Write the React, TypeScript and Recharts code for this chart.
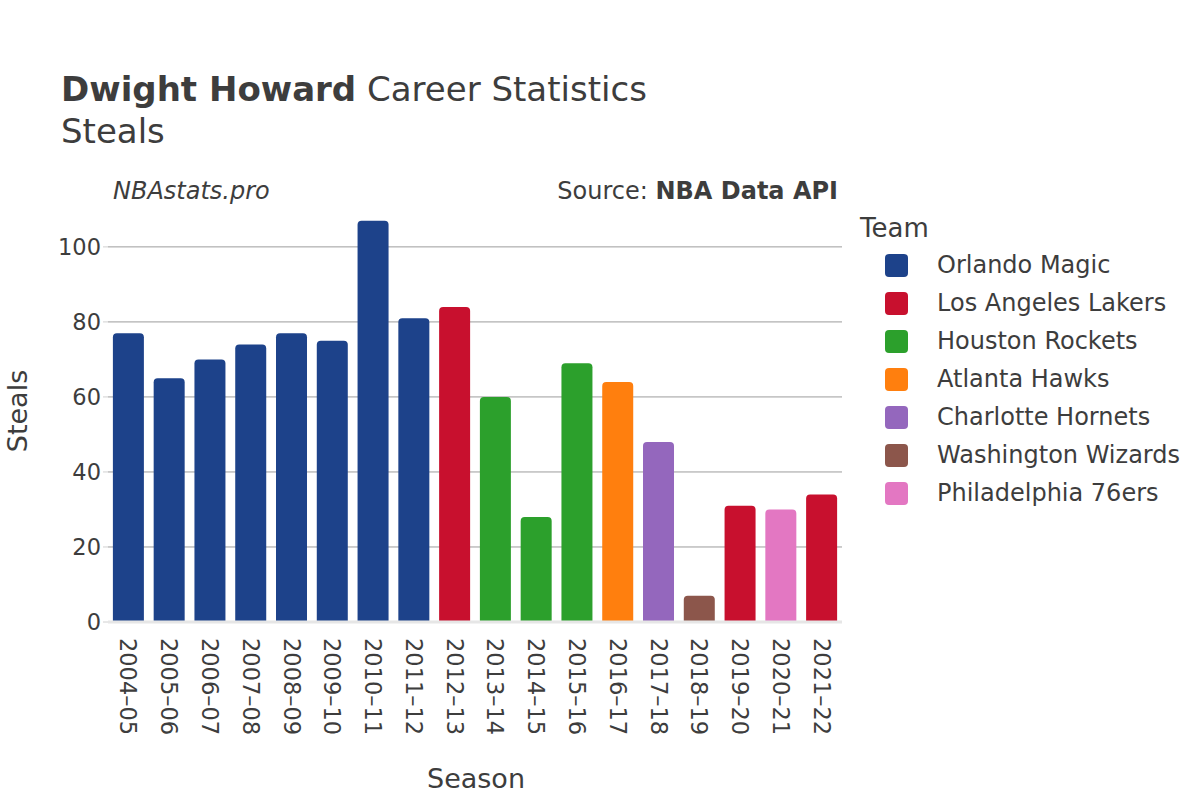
import React from "react";
import { BarChart, Bar, Cell, CartesianGrid, XAxis, YAxis, Legend, ReferenceLine } from "recharts";

// Dwight Howard steals per season, coloured by team
const SEASONS = [
  "2004–05", "2005–06", "2006–07", "2007–08", "2008–09", "2009–10",
  "2010–11", "2011–12", "2012–13", "2013–14", "2014–15", "2015–16",
  "2016–17", "2017–18", "2018–19", "2019–20", "2020–21", "2021–22",
];
const STEALS = [77, 65, 70, 74, 77, 75, 107, 81, 84, 60, 28, 69, 64, 48, 7, 31, 30, 34];
const SEASON_TEAM = [
  "Orlando Magic", "Orlando Magic", "Orlando Magic", "Orlando Magic", "Orlando Magic", "Orlando Magic",
  "Orlando Magic", "Orlando Magic", "Los Angeles Lakers", "Houston Rockets", "Houston Rockets", "Houston Rockets",
  "Atlanta Hawks", "Charlotte Hornets", "Washington Wizards", "Los Angeles Lakers", "Philadelphia 76ers", "Los Angeles Lakers",
];
const TEAMS = [
  "Orlando Magic", "Los Angeles Lakers", "Houston Rockets", "Atlanta Hawks",
  "Charlotte Hornets", "Washington Wizards", "Philadelphia 76ers",
];
const TEAM_COLORS = ["#1d428a", "#c8102e", "#2ca02c", "#ff7f0e", "#9467bd", "#8c564b", "#e377c2"];
const Y_TICKS = [0, 20, 40, 60, 80, 100];

const FONT = "'DejaVu Sans', Verdana, sans-serif";
const TEXT = "#3d3d3d";
const LEGEND_W = 340;

const data = SEASONS.map((season, i) => ({ season, steals: STEALS[i], team: SEASON_TEAM[i] }));
const colorOf = (team: string) => TEAM_COLORS[TEAMS.indexOf(team)];

function SeasonTick({ x, y, payload }: any) {
  return (
    <text
      x={x}
      y={y + 8}
      transform={`rotate(90, ${x}, ${y + 8})`}
      textAnchor="start"
      dominantBaseline="central"
      fontSize={22.5}
      fill={TEXT}
      fontFamily={FONT}
    >
      {payload.value}
    </text>
  );
}

function TeamLegend() {
  return (
    <div style={{ fontFamily: FONT, color: TEXT, width: LEGEND_W }}>
      <div style={{ fontSize: 26, lineHeight: "36px", height: 36 }}>Team</div>
      {TEAMS.map((t, i) => (
        <div key={t} style={{ display: "flex", alignItems: "center", height: 38 }}>
          <div
            style={{
              width: 23, height: 23, borderRadius: 4, marginLeft: 25,
              background: TEAM_COLORS[i],
            }}
          />
          <span style={{ marginLeft: 29, fontSize: 24, whiteSpace: "nowrap" }}>{t}</span>
        </div>
      ))}
    </div>
  );
}

export default function App() {
  return (
    <div style={{ position: "absolute", left: 0, top: 0, width: 1200, height: 800, background: "#fff" }}>
      <BarChart
        width={1200}
        height={800}
        data={data}
        margin={{ top: 200, right: 358 - LEGEND_W, bottom: 48, left: 48 }}
        barCategoryGap="12%"
      >
        <CartesianGrid vertical={false} stroke="#9c9c9c" strokeWidth={1} syncWithTicks />
        <XAxis
          dataKey="season"
          height={130}
          axisLine={false}
          tickLine={false}
          tick={<SeasonTick />}
          interval={0}
        />
        <YAxis
          width={60}
          domain={[0, 112.5]}
          ticks={Y_TICKS}
          allowDataOverflow
          axisLine={false}
          tickLine={{ stroke: "#d0d0d0" }}
          tickSize={5}
          tick={{ fontSize: 22.5, fill: TEXT, fontFamily: FONT }}
        />
        <ReferenceLine y={0} stroke="#e6e6e6" strokeWidth={3} />
        <Legend
          layout="vertical"
          verticalAlign="top"
          align="right"
          content={<TeamLegend />}
          wrapperStyle={{ position: "absolute", left: 860, top: 210, width: LEGEND_W }}
        />
        <Bar dataKey="steals" radius={[4, 4, 0, 0]} isAnimationActive={false}>
          {data.map((d, i) => (
            <Cell key={"cell-" + i} fill={colorOf(d.team)} />
          ))}
        </Bar>
      </BarChart>

      {/* titles and annotations */}
      <svg
        width={1200}
        height={800}
        style={{ position: "absolute", left: 0, top: 0, pointerEvents: "none" }}
        fontFamily={FONT}
        fill={TEXT}
      >
        <text x={61} y={101} fontSize={34}>
          <tspan fontWeight="bold">Dwight Howard</tspan>
          <tspan> Career Statistics</tspan>
        </text>
        <text x={61} y={143} fontSize={34}>Steals</text>
        <text x={113} y={199} fontSize={24} fontStyle="italic">NBAstats.pro</text>
        <text x={838} y={199} fontSize={24} textAnchor="end">
          <tspan>Source: </tspan>
          <tspan fontWeight="bold">NBA Data API</tspan>
        </text>
        <text x={476} y={788} fontSize={27} textAnchor="middle">Season</text>
        <text
          x={27}
          y={411}
          fontSize={27}
          textAnchor="middle"
          transform="rotate(-90, 27, 411)"
        >
          Steals
        </text>
      </svg>
    </div>
  );
}
